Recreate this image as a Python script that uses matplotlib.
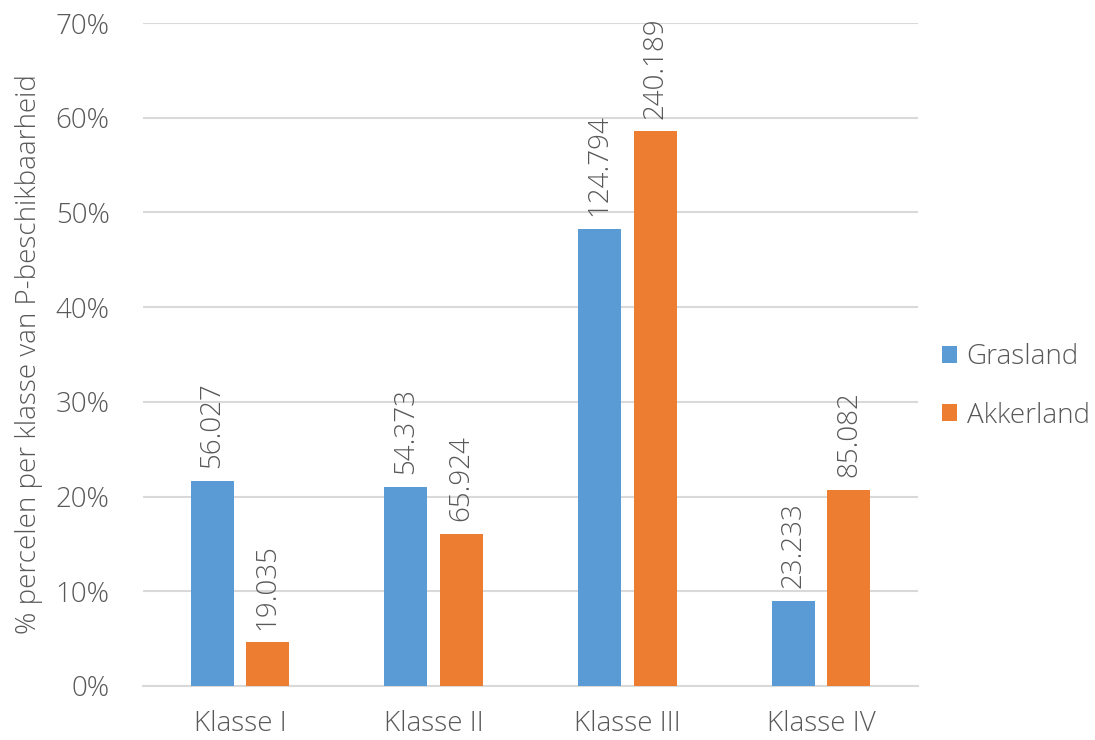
import matplotlib
matplotlib.use("Agg")
import matplotlib.pyplot as plt
from matplotlib.patches import Patch
import numpy as np

# Number of parcels per P-availability class
categories = ["Klasse I", "Klasse II", "Klasse III", "Klasse IV"]
series_names = ["Grasland", "Akkerland"]
grasland_counts = [56027, 54373, 124794, 23233]
akkerland_counts = [19035, 65924, 240189, 85082]
y_ticks = [0, 10, 20, 30, 40, 50, 60, 70]

colors = ["#5B9BD5", "#ED7D31"]
text_color = "#595959"
grid_color = "#D9D9D9"

plt.rcParams["font.family"] = ["Open Sans", "DejaVu Sans"]
plt.rcParams["font.weight"] = "light"


def fmt_count(n):
    return f"{n:,}".replace(",", ".")


fig = plt.figure(figsize=(10.95, 7.40), dpi=100)
ax = fig.add_axes([0.1306, 0.0730, 0.7078, 0.8959])

x = np.arange(len(categories))
width = 0.222
offset = 0.143

for i, counts in enumerate([grasland_counts, akkerland_counts]):
    counts = np.array(counts, dtype=float)
    shares = counts / counts.sum() * 100
    pos = x + (-offset if i == 0 else offset)
    bars = ax.bar(pos, shares, width, color=colors[i], zorder=3,
                  label=series_names[i])
    for b, n in zip(bars, counts):
        ax.annotate(fmt_count(int(n)),
                    (b.get_x() + b.get_width() / 2, b.get_height()),
                    xytext=(0, 9), textcoords="offset points",
                    rotation=90, ha="center", va="bottom",
                    fontsize=20, color=text_color, fontweight="light")

ax.set_xlim(-0.5, len(categories) - 0.5)
ax.set_ylim(0, 70)
ax.set_yticks(y_ticks)
ax.set_yticklabels([f"{v}%" for v in y_ticks])
ax.set_xticks(x)
ax.set_xticklabels(categories)

ax.yaxis.grid(True, color=grid_color, linewidth=1.5, zorder=0)
ax.set_axisbelow(True)
for s in ["top", "right", "left"]:
    ax.spines[s].set_visible(False)
ax.spines["bottom"].set_color(grid_color)
ax.spines["bottom"].set_linewidth(1.5)

ax.tick_params(axis="both", length=0, labelsize=20, colors=text_color)
ax.tick_params(axis="y", pad=24)
ax.tick_params(axis="x", pad=17)

ax.set_ylabel("% percelen per klasse van P-beschikbaarheid",
              fontsize=20, color=text_color, labelpad=9, fontweight="light")

handles = [Patch(facecolor=c, edgecolor="none") for c in colors]
fig.legend(handles, series_names, loc="center left",
           bbox_to_anchor=(0.837, 0.478), frameon=False,
           fontsize=20, labelcolor=text_color,
           handlelength=0.55, handleheight=0.55, handletextpad=0.35,
           labelspacing=1.1)

fig.savefig("out.png", dpi=100)
